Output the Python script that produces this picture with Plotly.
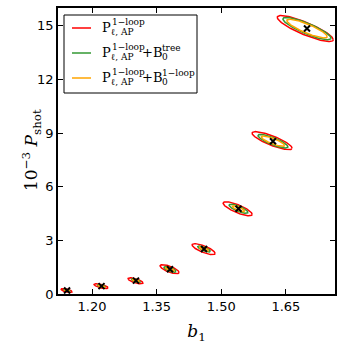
import numpy as np
import plotly.graph_objects as go

# fiducial points (b1, 10^-3 Pshot)
b1_fid = [1.142, 1.222, 1.302, 1.381, 1.460, 1.540, 1.620, 1.699]
psh_fid = [0.20, 0.44, 0.75, 1.38, 2.52, 4.77, 8.55, 14.85]

# centres of the red (power spectrum only) ellipses
b1_red = [1.141, 1.221, 1.301, 1.380, 1.459, 1.538, 1.618, 1.695]
psh_red = [0.19, 0.44, 0.74, 1.39, 2.51, 4.77, 8.58, 14.85]

# half extents of the red contours
db1_red = [0.0128, 0.0163, 0.0174, 0.0221, 0.0267, 0.0337, 0.0464, 0.0650]
dpsh_red = [0.112, 0.140, 0.168, 0.252, 0.308, 0.392, 0.504, 0.727]
rho = [-0.65, -0.68, -0.70, -0.74, -0.77, -0.80, -0.83, -0.86]

# relative size of the contours with the bispectrum added
scale_tree = [0.55, 0.55, 0.58, 0.63, 0.55, 0.65, 0.75, 0.86]
scale_loop = [0.45, 0.45, 0.45, 0.45, 0.40, 0.42, 0.58, 0.72]

RED = "#ff0000"
GREEN = "#339933"
ORANGE = "#ffa500"

W, H = 344, 352
ML, MR, MT, MB = 58, 9, 8, 58


def ellipse(cx, cy, hx, hy, r):
    t = np.linspace(0, 2 * np.pi, 120)
    x = cx + hx * np.cos(t)
    y = cy + hy * (r * np.cos(t) + np.sqrt(1 - r ** 2) * np.sin(t))
    return x, y


def paper(px, py):
    return (px - ML) / (W - ML - MR), (H - MB - py) / (H - MT - MB)


fig = go.Figure()

for i in range(len(b1_fid)):
    x, y = ellipse(b1_red[i], psh_red[i], db1_red[i], dpsh_red[i], rho[i])
    fig.add_trace(go.Scatter(x=x, y=y, mode="lines", line=dict(color=RED, width=1.5),
                             showlegend=False, hoverinfo="skip"))
    x, y = ellipse(b1_fid[i], psh_fid[i], db1_red[i] * scale_tree[i], dpsh_red[i] * scale_tree[i], rho[i])
    fig.add_trace(go.Scatter(x=x, y=y, mode="lines", line=dict(color=GREEN, width=1.5),
                             showlegend=False, hoverinfo="skip"))
    x, y = ellipse(b1_fid[i], psh_fid[i], db1_red[i] * scale_loop[i], dpsh_red[i] * scale_loop[i], rho[i])
    fig.add_trace(go.Scatter(x=x, y=y, mode="lines", line=dict(color=ORANGE, width=1.5),
                             showlegend=False, hoverinfo="skip"))

fig.add_trace(go.Scatter(x=b1_fid, y=psh_fid, mode="markers",
                         marker=dict(symbol="x-thin", size=6, line=dict(color="black", width=2)),
                         showlegend=False))

# hand made legend (stacked super/subscripts)
serif = "DejaVu Serif"
x0, y0 = paper(64, 93)
x1, y1 = paper(197, 15)
shapes = [dict(type="rect", xref="paper", yref="paper", x0=x0, y0=y0, x1=x1, y1=y1,
               line=dict(color="black", width=1), fillcolor="white", layer="above")]
annots = []


def txt(px, py, s, size, angle=0, anchor="left"):
    xp, yp = paper(px, py)
    annots.append(dict(xref="paper", yref="paper", x=xp, y=yp, text=s, showarrow=False,
                       xanchor=anchor, yanchor="middle", borderpad=0, textangle=angle,
                       font=dict(family=serif, size=size, color="black")))


rows = [28, 53, 78]
cols = [RED, GREEN, ORANGE]
sups = [None, "tree", "1\u2212loop"]
for row, c, sup in zip(rows, cols, sups):
    lx0, ly = paper(72, row)
    lx1, _ = paper(91, row)
    shapes.append(dict(type="line", xref="paper", yref="paper", x0=lx0, x1=lx1, y0=ly, y1=ly,
                       line=dict(color=c, width=1.5), layer="above"))
    txt(101, row - 1, "P", 13)
    txt(111, row - 6, "1\u2212loop", 9)
    txt(110, row + 4, "\u2113, AP", 9)
    if sup:
        txt(141, row - 1, "+B", 13)
        txt(161, row - 5, sup, 9)
        txt(161, row + 4, "0", 9)

# y axis title as a rotated annotation so it sits where the reference has it
txt(31, 150, "10<sup>\u22123</sup> <i>P</i><sub>shot</sub>", 17, angle=-90, anchor="center")

fig.update_layout(
    width=W, height=H,
    margin=dict(l=ML, r=MR, t=MT, b=MB),
    plot_bgcolor="white", paper_bgcolor="white",
    shapes=shapes, annotations=annots,
    font=dict(family="DejaVu Sans", size=13, color="black"),
)
fig.update_xaxes(range=[1.121, 1.764], tick0=1.20, dtick=0.15, tickformat=".2f",
                 ticks="inside", ticklen=5, tickwidth=1, tickcolor="black",
                 showline=True, linecolor="black", linewidth=1.5, mirror="allticks",
                 showgrid=False, zeroline=False, automargin=False,
                 title=dict(text="<i>b</i><sub>1</sub>", font=dict(family=serif, size=17), standoff=12))
fig.update_yaxes(range=[0, 16], tick0=0, dtick=3,
                 ticks="inside", ticklen=5, tickwidth=1, tickcolor="black",
                 showline=True, linecolor="black", linewidth=1.5, mirror="allticks",
                 showgrid=False, zeroline=False, automargin=False)

fig.write_html("out.html", config={"displayModeBar": False},
               post_script="document.body.style.margin='0';")
